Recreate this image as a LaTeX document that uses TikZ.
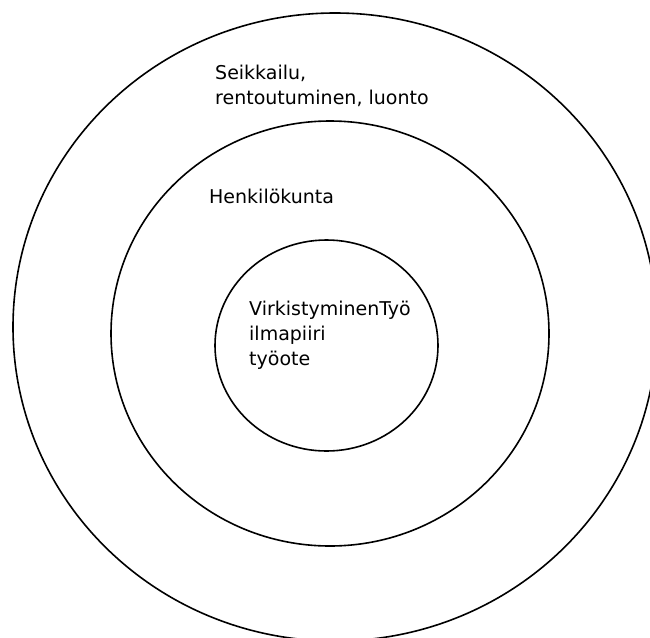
\documentclass[tikz,border=0pt]{standalone}
\usepackage{fontspec}
\setsansfont{DejaVu Sans}
\usepackage{tikz}
\usetikzlibrary{shapes.geometric}

\begin{document}
\begin{tikzpicture}[x=1pt, y=-1pt,
  font=\sffamily\fontsize{19}{25}\selectfont,
  ring/.style={draw=black, ellipse, line width=1.6pt, inner sep=0pt},
  lbl/.style={align=left, anchor=base west, inner sep=0pt, text=black}]
\useasboundingbox (0,0) rectangle (650,637);
\clip (0,0) rectangle (650,637);
\node[ring, minimum width=644pt, minimum height=628pt] (outer)  at (335,327) {};
\node[ring, minimum width=438pt, minimum height=425pt] (middle) at (330,333.5) {};
\node[ring, minimum width=223pt, minimum height=211pt] (inner)  at (326.5,345.5) {};
% base west of a multi-line node sits on its last line
\node[lbl] (leisure) at (215,104) {Seikkailu,\\ rentoutuminen, luonto};
\node[lbl] (staff)   at (209,203) {Henkilökunta};
\node[lbl] (core)    at (249,365) {VirkistyminenTyö\\ ilmapiiri\\ työote};
\end{tikzpicture}
\end{document}
